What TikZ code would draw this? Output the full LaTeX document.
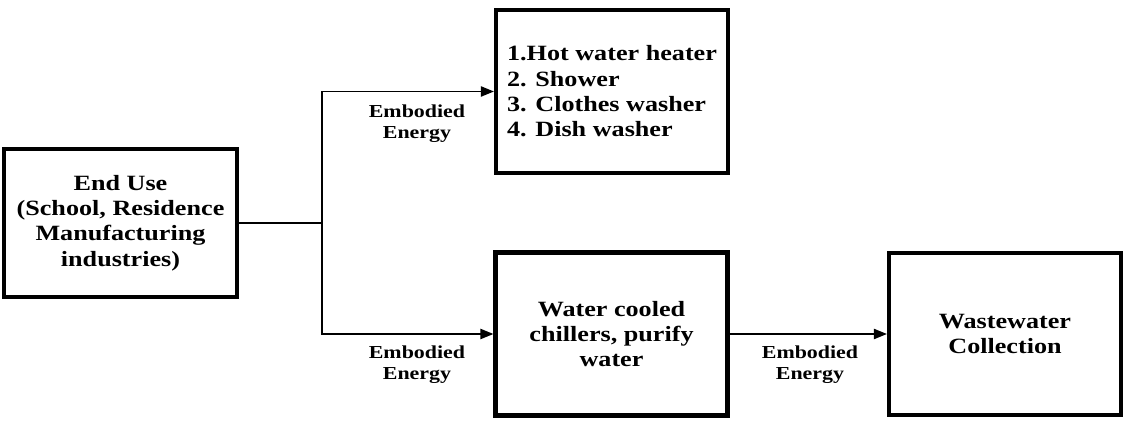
\documentclass[tikz,border=0pt]{standalone}
\usepackage{fontspec}
\setmainfont{Liberation Serif}[FakeStretch=1.2]
\usepackage{tikz}
\usetikzlibrary{arrows.meta, positioning}

\tikzset{
	block/.style={draw, line width=2.3pt, minimum width=4.64cm, minimum height=3.26cm, align=center, font=\fontsize{12.4}{14.4}\selectfont\bfseries},
	flowlabel/.style={align=center, font=\fontsize{10.4}{11.9}\selectfont\bfseries},
	flow/.style={line width=1.1pt}
}

\begin{document}
\begin{tikzpicture}[>={Triangle[length=7.4pt,width=5.7pt]}]
	\useasboundingbox (0,0) rectangle (22.58,8.46);
	% boxes
	\node[block, minimum width=4.66cm, minimum height=2.96cm] (enduse) at (2.41,4.00) {End Use\\(School, Residence\\Manufacturing\\industries)};
	\node[block, align=left] (heaters) at (12.24,6.63) {1.Hot water heater\\2. Shower\\3. Clothes washer\\4. Dish washer};
	\node[block] (chillers) at (12.23,1.78) {Water cooled\\chillers, purify\\water};
	\node[block, minimum height=3.24cm] (wastewater) at (20.10,1.78) {Wastewater\\Collection};
	% connectors
	\coordinate (split) at (6.44,4.00);
	\draw[flow] (enduse.east) -- (split);
	\draw[flow, ->] (split) |- (heaters.west);
	\draw[flow, ->] (split) |- (chillers.west);
	\draw[flow, ->] (chillers.east) -- (wastewater.west);
	% labels
	\node[flowlabel] (lbltop) at (8.34,5.99) {Embodied\\Energy};
	\node[flowlabel] (lblbottom) at (8.34,1.16) {Embodied\\Energy};
	\node[flowlabel] (lblright) at (16.20,1.16) {Embodied\\Energy};
\end{tikzpicture}
\end{document}
